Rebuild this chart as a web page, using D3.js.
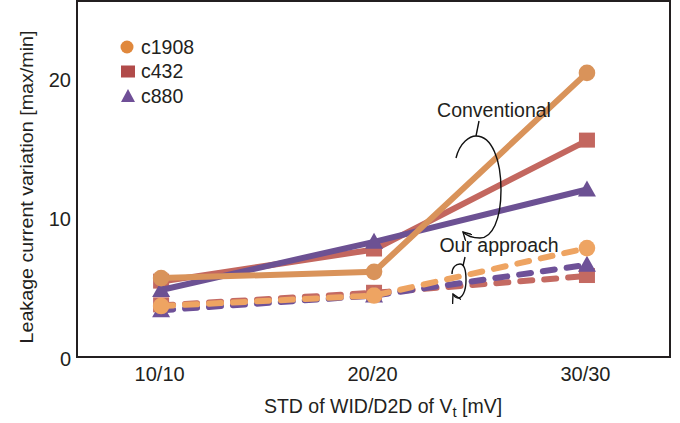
<!DOCTYPE html>
<html>
<head>
<meta charset="utf-8">
<script src="https://cdn.jsdelivr.net/npm/d3@7"></script>
<style>
  body { margin: 0; background: #fff; }
  text { font-family: "Liberation Sans", Arial, sans-serif; fill: #231f20; }
</style>
</head>
<body>
<div id="chart"></div>
<script>
const categories = ['10/10', '20/20', '30/30'];
const circuits = ['c1908', 'c432', 'c880'];

// conventional (solid) values
const convC1908 = [5.65, 6.1, 20.35];
const convC432 = [5.4, 7.7, 15.5];
const convC880 = [4.8, 8.25, 12.0];

// our approach (dashed) values
const oursC1908 = [3.65, 4.4, 7.8];
const oursC432 = [3.7, 4.6, 5.8];
const oursC880 = [3.35, 4.4, 6.6];

const yTicks = [0, 10, 20];

const width = 680, height = 423;
const margin = { top: 1, right: 10, bottom: 66, left: 77 };
const W = width - margin.left - margin.right;
const H = height - margin.top - margin.bottom;
const FONT = '"Liberation Sans", Arial, sans-serif';

const svg = d3.select('#chart').append('svg')
  .attr('width', width).attr('height', height);
const g = svg.append('g').attr('transform', `translate(${margin.left},${margin.top})`);

const x = d3.scaleLinear().domain([-0.395, 2.39]).range([0, W]);
const y = d3.scaleLinear().domain([0, 25.5]).range([H, 0]);

// axes
const yAxis = g.append('g').call(d3.axisLeft(y).tickValues(yTicks).tickSize(0).tickPadding(6));
yAxis.select('.domain').remove();
yAxis.selectAll('text').attr('font-size', '20px').attr('font-family', FONT).attr('fill', '#231f20').attr('dy', '0.42em');

const xAxis = g.append('g').attr('transform', `translate(0,${H})`)
  .call(d3.axisBottom(x).tickValues([0, 1, 2]).tickFormat(i => categories[i]).tickSize(0));
xAxis.select('.domain').remove();
xAxis.selectAll('text').attr('font-size', '20px').attr('font-family', FONT).attr('fill', '#231f20')
  .attr('y', 24).attr('dy', null).attr('dx', -2);

// frame
g.append('rect').attr('x', 0).attr('y', 0).attr('width', W).attr('height', H)
  .attr('fill', 'none').attr('stroke', '#231f20').attr('stroke-width', 2);

// axis titles
svg.append('text')
  .attr('transform', 'translate(33,187) rotate(-90)')
  .attr('text-anchor', 'middle').attr('font-size', '18px')
  .attr('textLength', 313).attr('lengthAdjust', 'spacingAndGlyphs')
  .text('Leakage current variation [max/min]');

const xt = svg.append('text').attr('x', 383).attr('y', 413)
  .attr('text-anchor', 'middle').attr('font-size', '19.5px');
xt.append('tspan').text('STD of WID/D2D of V');
xt.append('tspan').attr('font-size', '15px').attr('dy', 4).text('t');
xt.append('tspan').attr('dy', -4).text(' [mV]');

const series = [
  { name: 'c432', vals: convC432, color: '#c3675f', shape: 'square', dash: null },
  { name: 'c880', vals: convC880, color: '#6c5193', shape: 'triangle', dash: null },
  { name: 'c1908', vals: convC1908, color: '#d9935a', shape: 'circle', dash: null },
  { name: 'c432', vals: oursC432, color: '#c46a62', shape: 'square', dash: '12,12' },
  { name: 'c880', vals: oursC880, color: '#6e5198', shape: 'triangle', dash: '12,12' },
  { name: 'c1908', vals: oursC1908, color: '#eea462', shape: 'circle', dash: '12,12' }
];

const line = d3.line().x((d, i) => x(i)).y(d => y(d));

function marker(sel, shape, color, cx, cy) {
  if (shape === 'circle') {
    sel.append('circle').attr('cx', cx).attr('cy', cy).attr('r', 8.3).attr('fill', color);
  } else if (shape === 'square') {
    sel.append('rect').attr('x', cx - 8).attr('y', cy - 8).attr('width', 16).attr('height', 15).attr('fill', color);
  } else {
    sel.append('path').attr('d', `M${cx},${cy - 9}L${cx + 9},${cy + 7}L${cx - 9},${cy + 7}Z`).attr('fill', color);
  }
}

series.forEach(s => {
  const sg = g.append('g');
  sg.append('path').datum(s.vals).attr('d', line)
    .attr('fill', 'none').attr('stroke', s.color).attr('stroke-width', 6)
    .attr('stroke-linecap', s.dash ? 'round' : 'butt')
    .attr('stroke-dasharray', s.dash);
  s.vals.forEach((v, i) => marker(sg, s.shape, s.color, x(i), y(v)));
});

// legend
const legendItems = [
  { name: 'c1908', shape: 'circle', color: '#e0883c' },
  { name: 'c432', shape: 'square', color: '#b14b4a' },
  { name: 'c880', shape: 'triangle', color: '#6f4f97' }
];
const leg = svg.append('g');
legendItems.forEach((d, i) => {
  const cy = 47 + i * 24.5;
  if (d.shape === 'circle') leg.append('circle').attr('cx', 127).attr('cy', cy).attr('r', 6.5).attr('fill', d.color);
  else if (d.shape === 'square') leg.append('rect').attr('x', 121).attr('y', cy - 6).attr('width', 14).attr('height', 12).attr('fill', d.color);
  else leg.append('path').attr('d', `M128,${cy - 7}L135,${cy + 6}L121,${cy + 6}Z`).attr('fill', d.color);
  leg.append('text').attr('x', 141).attr('y', cy + 6.5).attr('font-size', '19.5px').text(d.name);
});

// annotations
svg.append('defs').append('marker').attr('id', 'arr')
  .attr('viewBox', '0 0 10 10').attr('refX', 9).attr('refY', 5)
  .attr('markerWidth', 7).attr('markerHeight', 7).attr('orient', 'auto-start-reverse')
  .append('path').attr('d', 'M0,0L9,5L0,10').attr('fill', 'none').attr('stroke', '#111').attr('stroke-width', 1.4);

svg.append('text').attr('x', 494).attr('y', 117).attr('text-anchor', 'middle').attr('font-size', '19.5px').text('Conventional');
svg.append('path').attr('d', 'M479,121L476,136').attr('fill', 'none').attr('stroke', '#111').attr('stroke-width', 1.4);
svg.append('path')
  .attr('d', 'M456,158C460,142 470,136 476,136C492,136 501,160 501,190C501,220 492,238 480,238C472,238 467,236 463,232')
  .attr('fill', 'none').attr('stroke', '#111').attr('stroke-width', 1.4).attr('marker-end', 'url(#arr)');

svg.append('text').attr('x', 499).attr('y', 252).attr('text-anchor', 'middle').attr('font-size', '19.5px').text('Our approach');
svg.append('path')
  .attr('d', 'M465,257L463,266')
  .attr('fill', 'none').attr('stroke', '#111').attr('stroke-width', 1.4);
svg.append('path')
  .attr('d', 'M452,274C452,267 456,264 460,264C465,264 466,272 466,280C466,292 462,298 458,298C455,298 454,296 453,294')
  .attr('fill', 'none').attr('stroke', '#111').attr('stroke-width', 1.4).attr('marker-end', 'url(#arr)');
</script>
</body>
</html>
